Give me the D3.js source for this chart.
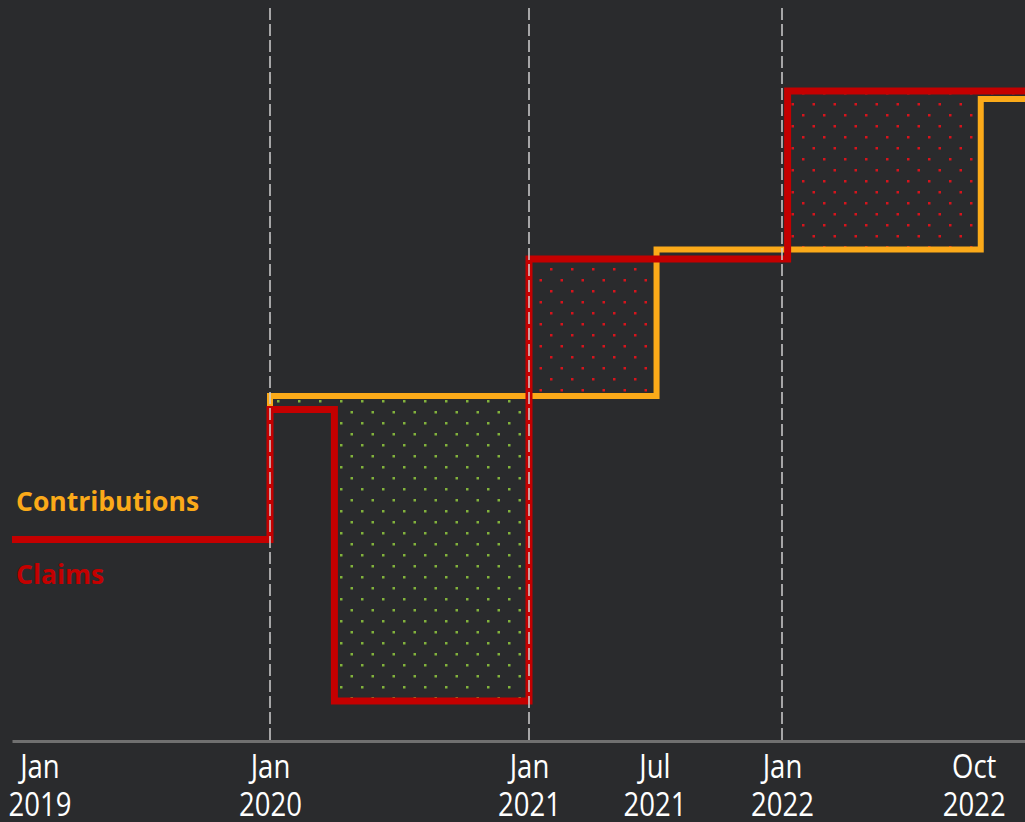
<!DOCTYPE html>
<html>
<head>
<meta charset="utf-8">
<script src="https://cdn.jsdelivr.net/npm/d3@7"></script>
<style>
  html, body { margin: 0; padding: 0; background: #2a2b2d; overflow: hidden; }
  svg { display: block; }
</style>
</head>
<body>
<script>
// step series (value holds from its date until the next one)
const claimDates = ["2019-01-01", "2020-01-01", "2020-04-01", "2021-01-01", "2022-01-09"];
const claimValues = [40.3, 66.3, 8.0, 96.4, 130.0];
const contribDates = ["2019-01-01", "2020-01-01", "2021-07-04", "2022-10-11"];
const contribValues = [40.3, 69.0, 98.3, 128.4];

const endDate = "2022-12-13";
const yearLines = ["2020-01-01", "2021-01-01", "2022-01-01"];
const tickDates = ["2019-01-01", "2020-01-01", "2021-01-01", "2021-07-01", "2022-01-01", "2022-10-01"];
const tickMonths = ["Jan", "Jan", "Jan", "Jul", "Jan", "Oct"];
const tickYears = ["2019", "2020", "2021", "2021", "2022", "2022"];

const width = 1025;
const height = 822;
const orange = '#fbaa19';
const red = '#c40000';
const parse = d3.utcParse('%Y-%m-%d');

const svg = d3.select('body')
  .append('svg')
  .attr('width', width)
  .attr('height', height);

svg.append('rect')
  .attr('width', width)
  .attr('height', height)
  .attr('fill', '#2a2b2d');

const x = d3.scaleUtc()
  .domain(["2019-01-01", "2020-01-01", "2021-01-01", "2022-01-01", endDate].map(parse))
  .range([12, 270, 529, 782, 1025]);

const y = d3.scaleLinear()
  .domain([0, 150])
  .range([741, -9]);

const claims = claimDates.map((d, i) => ({ date: parse(d), value: claimValues[i] }));
const contribs = contribDates.map((d, i) => ({ date: parse(d), value: contribValues[i] }));
claims.push({ date: parse(endDate), value: claimValues[claimValues.length - 1] });
contribs.push({ date: parse(endDate), value: contribValues[contribValues.length - 1] });

// dotted patterns
const defs = svg.append('defs');
[['dots-green', '#82b33c'], ['dots-red', '#d8141c']].forEach(([id, c]) => {
  const p = defs.append('pattern')
    .attr('id', id)
    .attr('patternUnits', 'userSpaceOnUse')
    .attr('width', 21)
    .attr('height', 22);
  p.append('rect').attr('x', 4).attr('y', 4).attr('width', 2.5).attr('height', 2.5).attr('fill', c);
  p.append('rect').attr('x', 14.5).attr('y', 15).attr('width', 2.5).attr('height', 2.5).attr('fill', c);
});

// value of a step series at a given date
function stepValue(series, date) {
  let v = series[0].value;
  series.forEach((d) => { if (d.date <= date) v = d.value; });
  return v;
}

const breaks = Array.from(new Set(claims.concat(contribs).map((d) => +d.date)))
  .sort((a, b) => a - b)
  .map((t) => new Date(t));

const gaps = [];
for (let i = 0; i < breaks.length - 1; i++) {
  const a = stepValue(claims, breaks[i]);
  const b = stepValue(contribs, breaks[i]);
  if (a !== b) gaps.push({ from: breaks[i], to: breaks[i + 1], claim: a, contrib: b });
}

svg.append('g')
  .selectAll('rect')
  .data(gaps)
  .join('rect')
  .attr('x', (d) => x(d.from))
  .attr('width', (d) => x(d.to) - x(d.from))
  .attr('y', (d) => y(Math.max(d.claim, d.contrib)))
  .attr('height', (d) => Math.abs(y(d.claim) - y(d.contrib)))
  .attr('fill', (d) => d.contrib > d.claim ? 'url(#dots-green)' : 'url(#dots-red)');

const line = d3.line()
  .curve(d3.curveStepAfter)
  .x((d) => x(d.date))
  .y((d) => y(d.value));

svg.append('path')
  .datum(contribs)
  .attr('d', line)
  .attr('fill', 'none')
  .attr('stroke', orange)
  .attr('stroke-width', 6)
  .attr('stroke-linejoin', 'miter');

svg.append('path')
  .datum(claims)
  .attr('d', line)
  .attr('fill', 'none')
  .attr('stroke', red)
  .attr('stroke-width', 7)
  .attr('stroke-linejoin', 'miter');

// year separators
svg.append('g')
  .selectAll('line')
  .data(yearLines.map(parse))
  .join('line')
  .attr('x1', (d) => x(d))
  .attr('x2', (d) => x(d))
  .attr('y1', 8)
  .attr('y2', 741)
  .attr('stroke', '#d0d0d0')
  .attr('stroke-width', 1.5)
  .attr('stroke-dasharray', '12,4');

// x axis
const axis = svg.append('g')
  .attr('transform', `translate(0,${y(0)})`)
  .call(d3.axisBottom(x)
    .tickValues(tickDates.map(parse))
    .tickSize(0)
    .tickSizeOuter(0)
    .tickFormat(() => ''));

axis.select('.domain')
  .attr('stroke', '#707070')
  .attr('stroke-width', 3);

const sx = 0.86;
axis.selectAll('.tick text').each(function (d, i) {
  const t = d3.select(this)
    .attr('fill', '#ffffff')
    .attr('font-family', '"Open Sans", sans-serif')
    .attr('font-size', 32)
    .attr('text-anchor', 'middle')
    .attr('y', 0)
    .attr('dy', 0);
  t.text(null);
  t.append('tspan').attr('x', 0).attr('y', 37).text(tickMonths[i]);
  t.append('tspan').attr('x', 0).attr('y', 75).text(tickYears[i]);
  // keep edge labels inside the frame
  const bb = this.getBBox();
  const pos = x(d);
  const left = pos + bb.x * sx;
  const right = pos + (bb.x + bb.width) * sx;
  let shift = 0;
  if (left < 8) shift = 8 - left;
  if (right > width - 3) shift = (width - 3) - right;
  t.attr('transform', `translate(${shift},0) scale(${sx},1)`);
});

// series labels
svg.append('text')
  .attr('x', 16)
  .attr('y', y(contribValues[0]) - 29)
  .attr('fill', orange)
  .attr('font-family', '"Open Sans", sans-serif')
  .attr('font-weight', 700)
  .attr('font-size', 26.5)
  .text('Contributions');

svg.append('text')
  .attr('x', 16)
  .attr('y', y(claimValues[0]) + 44)
  .attr('fill', red)
  .attr('font-family', '"Open Sans", sans-serif')
  .attr('font-weight', 700)
  .attr('font-size', 26.5)
  .text('Claims');
</script>
</body>
</html>
